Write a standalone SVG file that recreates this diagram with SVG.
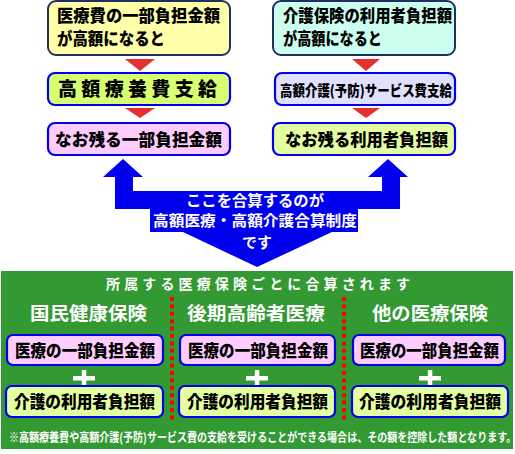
<svg xmlns="http://www.w3.org/2000/svg" width="515" height="454" viewBox="0 0 515 454">
<defs>
<style>
.t{font-family:"Noto Sans CJK JP","Noto Sans CJK SC",sans-serif;font-weight:900;fill:#000;}
.w{font-family:"Noto Sans CJK JP","Noto Sans CJK SC",sans-serif;font-weight:bold;fill:#fff;}
.bx{stroke:#0000ee;stroke-width:2.2;}
.dk{stroke:#1f2f5f;stroke-width:2;}
.tri{fill:#e43030;}
.dot{stroke:#ff0000;stroke-width:4;stroke-dasharray:4 3.4;fill:none;}
.plus{fill:#fff;}
</style>
</defs>
<rect width="515" height="454" fill="#fff"/>
<g id="left-top">
<rect class="dk" x="48" y="1" width="182" height="54" rx="8" fill="#ffffa8"/>
<text class="t" x="57" y="22" font-size="17" textLength="163" lengthAdjust="spacingAndGlyphs">医療費の一部負担金額</text>
<text class="t" x="57" y="45" font-size="17" textLength="108" lengthAdjust="spacingAndGlyphs">が高額になると</text>
</g>
<g id="left-mid">
<rect class="bx" x="48" y="73" width="182" height="32" rx="7" fill="#d8ff70"/>
<text class="t" x="58" y="96" font-size="19" textLength="159" lengthAdjust="spacing">高額療養費支給</text>
</g>
<g id="left-bot">
<rect class="bx" x="48" y="123" width="182" height="32" rx="7" fill="#ffccff"/>
<text class="t" x="55" y="146" font-size="17" textLength="167" lengthAdjust="spacingAndGlyphs">なお残る一部負担金額</text>
</g>
<g id="right-top">
<rect class="dk" x="273" y="1" width="182" height="54" rx="8" fill="#ccfff0"/>
<text class="t" x="283" y="22" font-size="16.5" textLength="169" lengthAdjust="spacingAndGlyphs">介護保険の利用者負担額</text>
<text class="t" x="283" y="45" font-size="17" textLength="99" lengthAdjust="spacingAndGlyphs">が高額になると</text>
</g>
<g id="right-mid">
<rect class="bx" x="275" y="73" width="180" height="32" rx="7" fill="#e0e0ff"/>
<text class="t" x="280" y="96" font-size="14.5" textLength="172" lengthAdjust="spacingAndGlyphs">高額介護(予防)サービス費支給</text>
</g>
<g id="right-bot">
<rect class="bx" x="273" y="123" width="182" height="32" rx="7" fill="#e4ffa0"/>
<text class="t" x="285" y="146" font-size="17" textLength="163" lengthAdjust="spacingAndGlyphs">なお残る利用者負担額</text>
</g>
<g id="connectors">
<polygon class="tri" points="125,59 155,59 140,71"/>
<polygon class="tri" points="125,108 155,108 140,118"/>
<polygon class="tri" points="352,59 380,59 366,71"/>
<polygon class="tri" points="352,108 380,108 366,118"/>
<polygon fill="#0000ee" points="123,159 143,177 133,177 133,191 382,191 382,177 368,177 388,159 408,177 400,177 400,209 358,209 358,232 332,232 257,267 183,232 150,232 150,209 115,209 115,177 103,177"/>
</g>
<g id="merge-label">
<text class="w" x="255" y="206" font-size="15" text-anchor="middle" textLength="138" lengthAdjust="spacingAndGlyphs">ここを合算するのが</text>
<text class="w" x="255" y="226" font-size="15" text-anchor="middle" textLength="204" lengthAdjust="spacingAndGlyphs">高額医療・高額介護合算制度</text>
<text class="w" x="257" y="248" font-size="15" text-anchor="middle">です</text>
</g>
<g id="panel">
<rect x="1" y="271" width="512" height="178" fill="#339933"/>
<text class="w" x="106" y="289" font-size="14" textLength="304" lengthAdjust="spacing">所属する医療保険ごとに合算されます</text>
<line class="dot" x1="172" y1="297" x2="172" y2="421"/>
<line class="dot" x1="344" y1="297" x2="344" y2="421"/>
<text class="w" x="30" y="320" font-size="18.5" textLength="117" lengthAdjust="spacingAndGlyphs">国民健康保険</text>
<text class="w" x="187" y="320" font-size="18.5" textLength="138" lengthAdjust="spacingAndGlyphs">後期高齢者医療</text>
<text class="w" x="372" y="320" font-size="18.5" textLength="116" lengthAdjust="spacingAndGlyphs">他の医療保険</text>
<text class="w" transform="translate(9,442) scale(0.802,1)" x="0" y="0" font-size="12.5">※高額療養費や高額介護(予防)サービス費の支給を受けることができる場合は、その額を控除した額となります。</text>
</g>
<g id="col1">
<rect class="bx" x="7" y="335" width="156" height="30" rx="6" fill="#ffccff"/>
<text class="t" x="15" y="357" font-size="16.5" textLength="140" lengthAdjust="spacingAndGlyphs">医療の一部負担金額</text>
<path class="plus" d="M73,376h22v4.5h-22z M81.8,370h4.5v16h-4.5z"/>
<rect class="bx" x="6" y="386" width="157" height="31" rx="6" fill="#e4ffa0"/>
<text class="t" x="14" y="408" font-size="16.5" textLength="141" lengthAdjust="spacingAndGlyphs">介護の利用者負担額</text>
</g>
<g id="col2">
<rect class="bx" x="180" y="335" width="155" height="30" rx="6" fill="#ffccff"/>
<text class="t" x="188" y="357" font-size="16.5" textLength="140" lengthAdjust="spacingAndGlyphs">医療の一部負担金額</text>
<path class="plus" d="M246,376h22v4.5h-22z M254.8,370h4.5v16h-4.5z"/>
<rect class="bx" x="179" y="386" width="156" height="31" rx="6" fill="#e4ffa0"/>
<text class="t" x="187" y="408" font-size="16.5" textLength="141" lengthAdjust="spacingAndGlyphs">介護の利用者負担額</text>
</g>
<g id="col3">
<rect class="bx" x="353" y="335" width="152" height="30" rx="6" fill="#ffccff"/>
<text class="t" x="360" y="357" font-size="16.5" textLength="139" lengthAdjust="spacingAndGlyphs">医療の一部負担金額</text>
<path class="plus" d="M419,376h22v4.5h-22z M427.8,370h4.5v16h-4.5z"/>
<rect class="bx" x="352" y="386" width="156" height="31" rx="6" fill="#e4ffa0"/>
<text class="t" x="359" y="408" font-size="16.5" textLength="142" lengthAdjust="spacingAndGlyphs">介護の利用者負担額</text>
</g>
</svg>
